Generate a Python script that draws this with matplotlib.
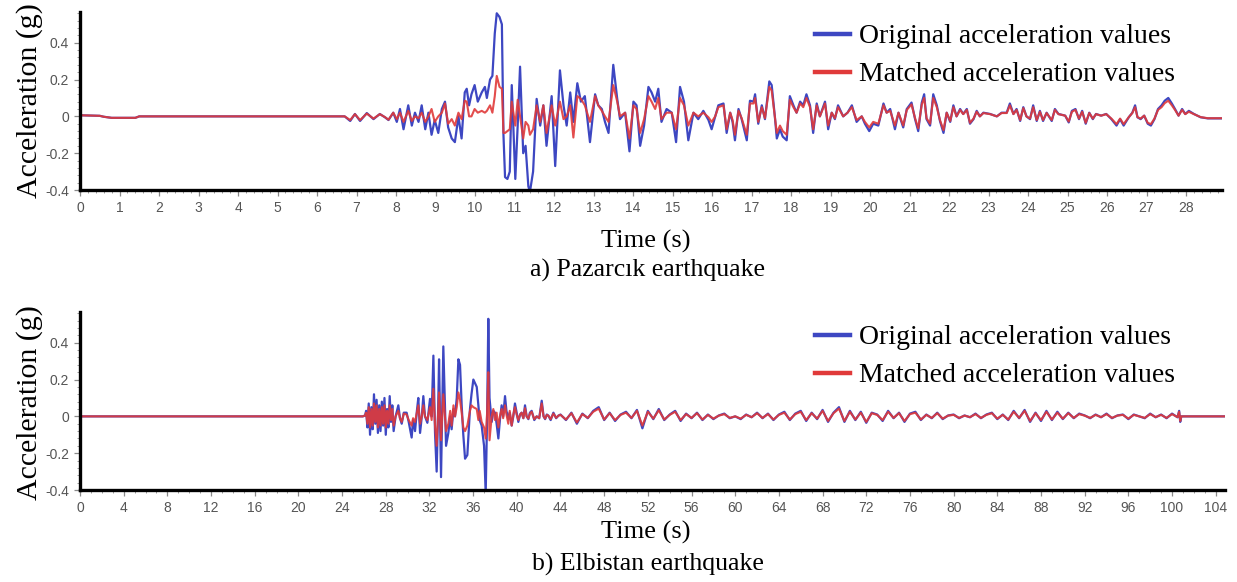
import numpy as np
import matplotlib
matplotlib.use("Agg")
import matplotlib.pyplot as plt
from matplotlib.ticker import MultipleLocator, FuncFormatter

# ---- Pazarcik record (time in s, acceleration in g) ----
pz_time = [0.0, 0.5, 0.6, 0.8, 1.4, 1.5, 6.6,
           6.7, 6.84, 6.96, 7.09, 7.26, 7.43, 7.59, 7.72, 7.81, 7.93,
           8.02, 8.10, 8.19, 8.31, 8.40, 8.48, 8.57, 8.65, 8.74, 8.82, 8.90, 8.98,
           9.07, 9.16, 9.24, 9.32, 9.41, 9.49, 9.58, 9.66, 9.74, 9.79, 9.85, 9.91,
           9.99, 10.07, 10.17, 10.25, 10.30, 10.38, 10.44, 10.50, 10.55, 10.62,
           10.68, 10.72, 10.76, 10.82, 10.88, 10.93, 11.02, 11.08, 11.14, 11.22,
           11.28, 11.35, 11.39,
           11.47, 11.56, 11.65, 11.73, 11.81, 11.94, 12.03, 12.15, 12.24, 12.32,
           12.41, 12.49, 12.59, 12.68, 12.78, 12.91, 13.04, 13.12, 13.21, 13.29,
           13.38, 13.50, 13.60, 13.67, 13.80, 13.91, 14.01, 14.09, 14.18, 14.28,
           14.39, 14.47, 14.56, 14.64, 14.72, 14.85, 14.98, 15.09, 15.19, 15.29,
           15.40, 15.53, 15.65, 15.78, 15.91, 15.99,
           16.08, 16.16, 16.29, 16.37, 16.46, 16.52, 16.58, 16.67, 16.75, 16.88,
           16.96, 17.05, 17.09, 17.17, 17.26, 17.34, 17.45, 17.51, 17.59, 17.64,
           17.72, 17.79, 17.89, 17.97, 18.06, 18.14, 18.23, 18.31, 18.39, 18.48,
           18.56, 18.65, 18.73, 18.86, 18.94, 19.03, 19.11, 19.19, 19.32, 19.43,
           19.54, 19.66, 19.79, 19.87, 19.98, 20.08, 20.21, 20.34, 20.42, 20.51,
           20.63, 20.72,
           20.84, 20.93, 21.05, 21.14, 21.22, 21.31, 21.37, 21.43, 21.52, 21.60,
           21.69, 21.77, 21.86, 21.94, 22.03, 22.11, 22.19, 22.28, 22.36, 22.45,
           22.53, 22.62, 22.70, 22.78, 22.87, 23.04, 23.21, 23.33, 23.46, 23.54,
           23.63, 23.71, 23.80, 23.88, 23.96, 24.05, 24.13, 24.22, 24.30, 24.38,
           24.47, 24.60, 24.68, 24.77,
           24.94, 25.03, 25.11, 25.20, 25.29, 25.37, 25.46, 25.55, 25.64, 25.72,
           25.85, 25.98, 26.11, 26.24, 26.33, 26.42, 26.55, 26.64, 26.71, 26.77,
           26.85, 26.94, 27.03, 27.11, 27.20, 27.29, 27.38, 27.46, 27.55, 27.64,
           27.72, 27.81, 27.90, 27.98, 28.07, 28.20, 28.37, 28.55, 28.90]

pz_orig = [0.006, 0.003, -0.002, -0.008, -0.008, 0.0, 0.0,
           0.0, -0.025, 0.013, -0.025, 0.018, -0.015, 0.013, -0.005, -0.02, 0.02,
           -0.03, 0.04, -0.07, 0.06, -0.05, 0.02, -0.03, 0.06, -0.07, 0.02, -0.10, -0.02,
           -0.09, 0.04, 0.08, -0.06, -0.12, -0.14, 0.0, -0.12, 0.13, 0.15, 0.06, 0.12,
           0.17, 0.08, 0.13, 0.16, 0.10, 0.20, 0.22, 0.45, 0.56, 0.54,
           0.50, -0.10, -0.33, -0.34, -0.30, 0.17, -0.34, -0.05, 0.27, -0.20,
           -0.16, -0.38, -0.41,
           -0.30, 0.095, -0.05, 0.06, -0.16, 0.11, -0.27, 0.25, 0.06, -0.05,
           0.13, -0.03, 0.18, 0.08, 0.11, -0.14, 0.12, 0.06, 0.04, -0.03,
           -0.09, 0.28, 0.095, -0.015, 0.02, -0.19, 0.08, 0.06, -0.16, -0.05,
           0.16, 0.13, 0.08, 0.15, -0.03, 0.04, 0.02, -0.14, 0.16, 0.08,
           -0.13, 0.02, -0.015, 0.03, -0.02, -0.07,
           0.0, 0.06, 0.07, -0.09, 0.02, -0.03, -0.13, 0.04, -0.015, -0.13,
           0.085, 0.08, 0.12, -0.04, 0.06, -0.015, 0.19, 0.17, 0.0, -0.12,
           -0.07, -0.11, -0.13, 0.11, 0.06, 0.02, 0.08, 0.06, 0.12, 0.06,
           -0.09, 0.07, 0.0, 0.08, -0.07, 0.02, -0.015, 0.06, 0.0, 0.02,
           0.06, -0.03, 0.0, -0.04, -0.08, -0.04, -0.05, 0.07, 0.02, 0.04,
           -0.07, 0.02,
           -0.06, 0.04, 0.075, -0.015, -0.08, 0.075, 0.12, -0.015, -0.05, 0.12,
           0.06, -0.025, -0.09, 0.02, -0.03, 0.06, 0.0, 0.04, 0.013, 0.04,
           -0.04, -0.015, 0.03, 0.0, 0.02, 0.013, 0.0, 0.02, 0.02, 0.07,
           0.013, 0.04, -0.025, 0.05, 0.0, -0.015, 0.06, -0.025, 0.03, -0.025,
           0.02, -0.025, 0.04, 0.013,
           0.004, -0.033, 0.03, 0.04, -0.015, 0.03, -0.04, 0.02, -0.015, 0.013,
           0.004, 0.013, -0.015, -0.05, -0.015, -0.05, -0.005, 0.02, 0.06, -0.005,
           -0.015, 0.004, -0.04, -0.05, -0.015, 0.04, 0.06, 0.085, 0.10, 0.07,
           0.04, 0.004, 0.04, 0.013, 0.03, 0.013, -0.005, -0.011, -0.011]

pz_match = [0.006, 0.003, -0.002, -0.008, -0.008, 0.0, 0.0,
            0.0, -0.02, 0.012, -0.02, 0.015, -0.012, 0.012, -0.004, -0.018, 0.02,
            -0.015, 0.02, -0.03, 0.03, -0.025, 0.0, -0.01, 0.02, -0.03, 0.0, 0.04, -0.03,
            0.0, 0.02, 0.07, -0.04, -0.015, -0.05, 0.02, -0.015, 0.085, 0.08, 0.0, 0.0,
            0.04, 0.02, 0.03, 0.02, 0.03, 0.06, 0.02, 0.11, 0.22, 0.16,
            0.15, -0.09, -0.09, -0.08, -0.07, 0.08, -0.05, 0.09, 0.0, -0.12,
            -0.03, -0.05, -0.10,
            -0.07, 0.06, -0.03, 0.06, -0.09, 0.06, -0.05, 0.08, -0.015, 0.0,
            0.06, -0.115, 0.11, 0.095, 0.06, -0.03, 0.11, 0.06, 0.03, 0.0,
            -0.03, 0.17, 0.08, 0.0, 0.02, -0.12, 0.06, 0.04, -0.09, -0.015,
            0.11, 0.08, 0.04, 0.10, -0.015, 0.02, 0.02, -0.07, 0.10, 0.06,
            -0.05, 0.02, 0.0, 0.02, -0.005, -0.03,
            0.0, 0.05, 0.06, -0.07, 0.02, -0.02, -0.10, 0.03, -0.01, -0.10,
            0.07, 0.07, 0.10, -0.03, 0.05, -0.01, 0.16, 0.14, 0.0, -0.09,
            -0.05, -0.08, -0.10, 0.09, 0.05, 0.02, 0.07, 0.05, 0.10, 0.05,
            -0.07, 0.06, 0.0, 0.07, -0.05, 0.02, -0.01, 0.05, 0.0, 0.02,
            0.05, -0.02, 0.0, -0.03, -0.06, -0.03, -0.04, 0.06, 0.02, 0.03,
            -0.05, 0.02,
            -0.05, 0.035, 0.065, -0.01, -0.065, 0.065, 0.10, -0.01, -0.04, 0.10,
            0.05, -0.02, -0.075, 0.02, -0.025, 0.05, 0.0, 0.035, 0.012, 0.035,
            -0.035, -0.012, 0.025, 0.0, 0.018, 0.012, 0.0, 0.018, 0.018, 0.06,
            0.012, 0.035, -0.02, 0.045, 0.0, -0.012, 0.05, -0.02, 0.025, -0.02,
            0.018, -0.02, 0.035, 0.012,
            0.004, -0.028, 0.025, 0.035, -0.012, 0.025, -0.035, 0.018, -0.012, 0.012,
            0.004, 0.012, -0.012, -0.042, -0.012, -0.042, -0.004, 0.018, 0.05, -0.004,
            -0.012, 0.004, -0.035, -0.042, -0.012, 0.035, 0.05, 0.072, 0.085, 0.06,
            0.035, 0.004, 0.035, 0.012, 0.025, 0.012, -0.004, -0.01, -0.01]

# ---- Elbistan record: strong-motion part ----
el_time = [0.0, 25.9, 26.1,
           26.2, 26.32, 26.44, 26.56, 26.68, 26.8, 26.92, 27.04, 27.16, 27.28,
           27.4, 27.52, 27.64, 27.76, 27.88, 28.0, 28.12, 28.24, 28.36, 28.48,
           28.6, 28.72,
           28.9, 29.15, 29.3, 29.46, 29.65, 29.91, 30.1, 30.37, 30.5, 30.68,
           30.85, 30.98, 31.14, 31.3, 31.44, 31.59, 31.81,
           32.05, 32.2, 32.36, 32.51, 32.66, 32.8, 32.88, 33.06, 33.27, 33.52,
           33.73, 33.9, 34.03, 34.2, 34.34, 34.5, 34.65, 34.8, 34.95, 35.1,
           35.26, 35.47, 35.71, 35.85, 36.02, 36.33, 36.48, 36.6, 36.78, 37.0,
           37.15, 37.28, 37.39, 37.5, 37.7, 37.85, 38.0, 38.15, 38.31, 38.45,
           38.61, 38.75, 38.92, 39.05, 39.22, 39.35, 39.53, 39.68, 39.83, 39.98,
           40.14, 40.3, 40.44, 40.6, 40.75, 40.9, 41.06, 41.2, 41.36, 41.6,
           41.82, 42.05, 42.28, 42.45, 42.59, 42.75, 42.89, 43.1, 43.35, 43.6,
           43.81]

el_orig = [0.0, 0.0, 0.005,
           0.03, -0.06, 0.07, -0.10, 0.05, -0.07, 0.12, -0.04, 0.09, -0.09,
           0.06, -0.08, 0.08, -0.05, 0.10, -0.10, 0.04, -0.06, 0.11, -0.03,
           0.06, -0.08,
           0.0, 0.06, -0.01, -0.04, 0.02, 0.02, -0.03, -0.115, -0.02, -0.08,
           0.03, 0.10, -0.09, 0.0, 0.11, 0.0, -0.035,
           0.095, 0.0, 0.33, -0.09, -0.30, 0.05, 0.31, -0.33, 0.38, -0.16,
           -0.09, 0.0, -0.07, 0.04, 0.0, 0.10, 0.31, 0.28, 0.06, -0.10,
           -0.23, -0.21, 0.04, 0.12, 0.20, 0.16, 0.06, -0.02, -0.05, -0.16,
           -0.42, 0.0, 0.53, 0.10, -0.03, 0.03, 0.02, -0.04, -0.12, -0.02,
           0.06, 0.0, 0.11, 0.03, -0.015, 0.02, -0.05, 0.0, 0.07, 0.02,
           -0.03, 0.01, 0.02, -0.01, 0.06, 0.0, -0.015, 0.02, 0.03, -0.02,
           0.0, -0.01, 0.085, 0.0, -0.015, 0.01, 0.004, -0.02, 0.02, -0.01,
           0.004]

el_match = [0.0, 0.0, 0.005,
            0.02, -0.04, 0.05, -0.06, 0.04, -0.05, 0.07, -0.03, 0.06, -0.06,
            0.04, -0.05, 0.05, -0.04, 0.06, -0.06, 0.03, -0.04, 0.06, -0.02,
            0.04, -0.05,
            0.0, 0.03, -0.01, -0.03, 0.015, 0.01, -0.02, -0.05, -0.01, -0.03,
            0.02, 0.06, -0.04, 0.0, 0.06, 0.0, -0.02,
            0.05, -0.02, 0.15, -0.05, -0.16, 0.03, 0.13, -0.13, 0.12, -0.08,
            -0.04, 0.03, -0.05, 0.06, 0.0, 0.05, 0.13, 0.09, 0.02, -0.06,
            -0.08, -0.05, 0.03, 0.06, 0.05, 0.04, -0.02, 0.03, -0.03, -0.06,
            -0.12, 0.02, 0.24, -0.13, 0.0, 0.04, -0.02, 0.02, -0.06, 0.0,
            0.04, -0.01, 0.06, 0.01, -0.04, 0.03, -0.05, 0.01, 0.05, 0.01,
            -0.02, 0.01, 0.02, -0.01, 0.045, 0.0, -0.012, 0.015, 0.025, -0.015,
            0.0, -0.01, 0.07, 0.0, -0.012, 0.008, 0.004, -0.015, 0.015, -0.008,
            0.004]

# ---- Elbistan record: coda sampled every 0.5 s from 44 s ----
el_coda_start = 44.0
el_coda_dt = 0.5
el_coda_orig = [0.01, -0.02, 0.02, -0.04, 0.015, -0.01, 0.03, 0.05, -0.02, 0.02,
                -0.025, 0.01, 0.025, -0.01, 0.035, -0.065, 0.03, -0.015, 0.04, -0.02,
                0.01, 0.03, -0.025, 0.015, -0.01, 0.02, -0.02, 0.01, -0.015, 0.005,
                0.015, -0.01, 0.0, -0.015, 0.01, -0.005, 0.02, -0.01, 0.015, -0.02,
                0.01, 0.025, -0.02, 0.015, 0.03, -0.025, 0.02, -0.015, 0.035, -0.03,
                0.02, 0.05, -0.03, 0.03, -0.02, 0.025, -0.035, 0.02, 0.01, -0.025,
                0.03, -0.01, 0.02, -0.03, 0.015, 0.025, -0.02, 0.01, -0.01, 0.02,
                -0.015, 0.005, 0.01, -0.01, 0.005, -0.005, 0.015, -0.01, 0.01, 0.02,
                -0.015, 0.01, -0.02, 0.03, -0.01, 0.035, -0.03, 0.02, -0.025, 0.03,
                -0.02, 0.025, -0.015, 0.02, -0.01, 0.015, 0.005, -0.01, 0.01, -0.005,
                0.015, -0.01, 0.005, 0.01, -0.015, 0.01, 0.0, -0.01, 0.015, -0.005,
                0.01, -0.01, 0.015, -0.005]
el_coda_match = [0.008, -0.017, 0.017, -0.033, 0.012, -0.008, 0.025, 0.042, -0.017, 0.017,
                 -0.02, 0.008, 0.02, -0.008, 0.03, -0.05, 0.025, -0.012, 0.033, -0.017,
                 0.008, 0.025, -0.02, 0.012, -0.008, 0.017, -0.017, 0.008, -0.012, 0.004,
                 0.012, -0.008, 0.0, -0.012, 0.008, -0.004, 0.017, -0.008, 0.012, -0.017,
                 0.008, 0.02, -0.017, 0.012, 0.025, -0.02, 0.017, -0.012, 0.03, -0.025,
                 0.017, 0.042, -0.025, 0.025, -0.017, 0.02, -0.03, 0.017, 0.008, -0.02,
                 0.025, -0.008, 0.017, -0.025, 0.012, 0.02, -0.017, 0.008, -0.008, 0.017,
                 -0.012, 0.004, 0.008, -0.008, 0.004, -0.004, 0.012, -0.008, 0.008, 0.017,
                 -0.012, 0.008, -0.017, 0.025, -0.008, 0.03, -0.025, 0.017, -0.02, 0.025,
                 -0.017, 0.02, -0.012, 0.017, -0.008, 0.012, 0.004, -0.008, 0.008, -0.004,
                 0.012, -0.008, 0.004, 0.008, -0.012, 0.008, 0.0, -0.008, 0.012, -0.004,
                 0.008, -0.008, 0.012, -0.004]

# end of record: last spike, then zero padding
el_end_time = [100.65, 100.75, 100.85, 105.0]
el_end_orig = [0.03, -0.03, 0.0, 0.0]
el_end_match = [0.025, -0.025, 0.0, 0.0]

BLUE = "#3d47c2"
RED = "#e03a3a"
SERIF = "Liberation Serif"
SANS = "Liberation Sans"

coda_t = el_coda_start + el_coda_dt * np.arange(len(el_coda_orig))
el_t = np.concatenate([el_time, coda_t, el_end_time])
el_o = np.concatenate([el_orig, el_coda_orig, el_end_orig])
el_m = np.concatenate([el_match, el_coda_match, el_end_match])

W, H = 1237, 582
fig = plt.figure(figsize=(W / 100, H / 100), dpi=100)


def fx(px):
    return px / W


def fy(py):
    return 1 - py / H


def style_axes(ax, xmax, xmajor, xminor):
    ax.set_xlim(0, xmax)
    ax.set_ylim(-0.4, 0.567)
    for s in ("top", "right"):
        ax.spines[s].set_visible(False)
    for s in ("left", "bottom"):
        ax.spines[s].set_linewidth(2.4)
        ax.spines[s].set_color("black")
    ax.xaxis.set_major_locator(MultipleLocator(xmajor))
    ax.xaxis.set_minor_locator(MultipleLocator(xminor))
    ax.yaxis.set_major_locator(MultipleLocator(0.2))
    ax.yaxis.set_minor_locator(MultipleLocator(0.04))
    ax.yaxis.set_major_formatter(FuncFormatter(lambda v, p: "0" if abs(v) < 1e-9 else f"{v:.1f}"))
    ax.tick_params(which="major", length=4, width=0.9, color="#8a8a8a",
                   labelsize=10, labelcolor="#555555", pad=4)
    ax.tick_params(which="minor", length=2.5, width=0.7, color="#9a9a9a")
    for lab in ax.get_xticklabels() + ax.get_yticklabels():
        lab.set_fontfamily(SANS)


def add_legend(ax, top_px):
    h1, = ax.plot([], [], color=BLUE, lw=3.2)
    h2, = ax.plot([], [], color=RED, lw=3.2)
    ax.legend([h1, h2], ["Original acceleration values", "Matched acceleration values"],
              loc="upper left", bbox_to_anchor=(fx(815), fy(top_px)),
              bbox_transform=fig.transFigure, frameon=False, borderpad=0,
              borderaxespad=0, handlelength=1.27, handletextpad=0.3,
              labelspacing=0.45, prop={"family": SERIF, "size": 20})


# top panel: Pazarcik
ax1 = fig.add_axes([fx(80), fy(190), fx(1222 - 80), (190 - 12) / H])
ax1.plot(pz_time, pz_orig, color=BLUE, lw=1.6)
ax1.plot(pz_time, pz_match, color=RED, lw=1.5, alpha=0.9)
style_axes(ax1, 28.91, 1, 0.2)
add_legend(ax1, 24)

# bottom panel: Elbistan
ax2 = fig.add_axes([fx(80), fy(490), fx(1225 - 80), (490 - 312) / H])
ax2.plot(el_t, el_o, color=BLUE, lw=1.6)
ax2.plot(el_t, el_m, color=RED, lw=1.5, alpha=0.9)
style_axes(ax2, 104.85, 4, 1)
add_legend(ax2, 325)

# axis titles and captions
for yc in (101, 403):
    fig.text(fx(30), fy(yc), "Acceleration (g)", rotation=90, ha="center", va="center",
             family=SERIF, fontsize=21.5)
fig.text(fx(646), fy(241), "Time (s)", ha="center", va="center", family=SERIF, fontsize=19)
fig.text(fx(648), fy(270), "a) Pazarcık earthquake", ha="center", va="center",
         family=SERIF, fontsize=18.5)
fig.text(fx(646), fy(532), "Time (s)", ha="center", va="center", family=SERIF, fontsize=19)
fig.text(fx(648), fy(564), "b) Elbistan earthquake", ha="center", va="center",
         family=SERIF, fontsize=18.5)

fig.savefig("out.png", dpi=100)
